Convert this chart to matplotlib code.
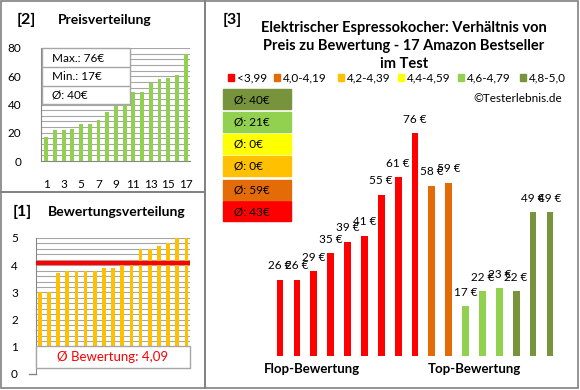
import numpy as np
import matplotlib.pyplot as plt
from matplotlib.patches import Rectangle

plt.rcParams['font.family'] = ['Lato', 'DejaVu Sans']

# data (products sorted by rating group, as shown in the main chart)
prices = [26, 26, 29, 35, 39, 41, 55, 61, 76, 58, 59, 17, 22, 23, 22, 49, 49]
groups = [0, 0, 0, 0, 0, 0, 0, 0, 0, 1, 1, 4, 4, 4, 5, 5, 5]
group_labels = ['<3,99', '4,0-4,19', '4,2-4,39', '4,4-4,59', '4,6-4,79', '4,8-5,0']
group_colors = ['#FF0000', '#E36C09', '#FFC000', '#FFFF00', '#92D050', '#77933C']
group_avgs = [43, 59, 0, 0, 21, 40]

prices_sorted = [17, 22, 22, 23, 26, 26, 29, 35, 39, 41, 49, 49, 55, 58, 59, 61, 76]
ratings_sorted = [3.0, 3.0, 3.7, 3.8, 3.8, 3.8, 3.8, 3.9, 3.9, 4.0, 4.0, 4.6, 4.6, 4.7, 4.8, 5.0, 5.0]
avg_rating = 4.09

W, H = 580, 390
fig = plt.figure(figsize=(W / 100, H / 100), dpi=100)


def px_axes(x0, y0, x1, y1, **kw):
    # axes from pixel box (top-left origin)
    return fig.add_axes([x0 / W, 1 - y1 / H, (x1 - x0) / W, (y1 - y0) / H], **kw)


def ftext(x, y, s, **kw):
    fig.text(x / W, 1 - y / H, s, **kw)


grey = '#868686'

# ---- [2] Preisverteilung ----
ax2 = px_axes(41, 48, 190, 161)
x = np.arange(1, len(prices_sorted) + 1)
ax2.bar(x, prices_sorted, width=0.45, color='#92D050', zorder=3)
ax2.set_xlim(0.4, 17.5)
ax2.set_ylim(0, 80)
ax2.set_yticks(np.arange(0, 81, 20))
ax2.set_yticks(np.arange(0, 81, 4), minor=True)
ax2.set_xticks(np.arange(1, 18, 2))
ax2.grid(axis='y', which='both', color='#A6A6A6', linewidth=0.8, zorder=0)
for s in ['top', 'right']:
    ax2.spines[s].set_visible(False)
ax2.spines['left'].set_color(grey)
ax2.spines['bottom'].set_color(grey)
ax2.tick_params(axis='both', which='both', length=0, labelsize=8.5)
ax2.tick_params(axis='y', pad=14)
ax2.tick_params(axis='x', pad=13)
ftext(17, 20, '[2]', fontsize=11.5, fontweight='bold', va='center')
ftext(58, 20, 'Preisverteilung', fontsize=10, fontweight='bold', va='center')

# ---- [1] Bewertungsverteilung ----
ax1 = px_axes(36, 238, 190, 374)
ax1.bar(x, ratings_sorted, width=0.4, color='#FFC000', zorder=3)
ax1.set_xlim(0.6, 17.4)
ax1.set_ylim(0, 5)
ax1.set_yticks(np.arange(0, 6, 1))
ax1.set_yticks(np.arange(0, 5.01, 0.2), minor=True)
ax1.set_xticks([])
ax1.grid(axis='y', which='both', color='#A6A6A6', linewidth=0.8, zorder=0)
for s in ['top', 'right', 'bottom']:
    ax1.spines[s].set_visible(False)
ax1.spines['left'].set_color(grey)
ax1.plot([0.7, 17.3], [avg_rating, avg_rating], color='#FF0000', lw=3, zorder=4)
ax1.tick_params(axis='both', which='both', length=0, labelsize=8.5)
ax1.tick_params(axis='y', pad=13)
ax1.plot([-0.2, 0.6], [0, 0], color=grey, lw=1, clip_on=False)
ftext(13, 212, '[1]', fontsize=11.5, fontweight='bold', va='center')
ftext(48, 212, 'Bewertungsverteilung', fontsize=10, fontweight='bold', va='center')

# ---- [3] main chart ----
ax3 = px_axes(270, 100, 560, 356)
pos = np.arange(len(prices))
cols = [group_colors[g] for g in groups]
ax3.bar(pos, prices, width=0.4, color=cols)
for p, v in zip(pos, prices):
    ax3.annotate('%d €' % v, (p, v), xytext=(0, 6), textcoords='offset points',
                 ha='center', va='bottom', fontsize=8.5)
ax3.set_xlim(-0.6, 16.6)
ax3.set_ylim(0, 87.2)
ax3.axis('off')

ftext(223, 20, '[3]', fontsize=11.5, fontweight='bold', va='center')
title = 'Elektrischer Espressokocher: Verhältnis von\nPreis zu Bewertung - 17 Amazon Bestseller\nim Test'
ftext(404, 46, title, fontsize=10.5, fontweight='bold', ha='center', va='center',
      linespacing=1.35)
ftext(562, 98, '©Testerlebnis.de', fontsize=8.5, ha='right', va='center')
ftext(312, 369, 'Flop-Bewertung', fontsize=9.5, fontweight='bold', ha='center', va='center')
ftext(474, 369, 'Top-Bewertung', fontsize=9.5, fontweight='bold', ha='center', va='center')

# overlay in pixel coordinates: frames, boxes, legend
ov = px_axes(0, 0, W, H)
ov.set_xlim(0, W)
ov.set_ylim(H, 0)
ov.axis('off')
ov.patch.set_alpha(0)
for (x0, y0, x1, y1) in [(1, 1, 205, 192), (1, 192, 205, 388), (205, 1, 578, 388)]:
    ov.add_patch(Rectangle((x0, y0), x1 - x0, y1 - y0, fill=False,
                           edgecolor='#808080', linewidth=1.2))

# stats box in [2]
ov.add_patch(Rectangle((42, 48), 88, 56, facecolor='white', edgecolor='#A6A6A6', linewidth=1))
ov.plot([42, 130], [67, 67], color='#A6A6A6', lw=1)
ov.plot([42, 130], [86, 86], color='#A6A6A6', lw=1)
for yy, s in [(58, 'Max.: %d€' % max(prices_sorted)), (77, 'Min.: %d€' % min(prices_sorted)),
              (95, 'Ø: %d€' % round(np.mean(prices_sorted)))]:
    ov.text(52, yy, s, fontsize=8.5, va='center')

# average rating box in [1] (blanks the bars below 1)
ov.add_patch(Rectangle((37, 368), 153, 5.5, facecolor='white', edgecolor='none'))
ov.add_patch(Rectangle((36, 346), 154, 22, facecolor='white', edgecolor='#A6A6A6', linewidth=1))
ov.text(113, 357, 'Ø Bewertung: ' + ('%.2f' % avg_rating).replace('.', ','),
        fontsize=9.5, color='#FF0000', ha='center', va='center')

# colour legend row
leg_x = [228, 274, 338, 398, 458, 520]
for lx, lab, c in zip(leg_x, group_labels, group_colors):
    ov.add_patch(Rectangle((lx, 74), 6, 7, color=c))
    ov.text(lx + 9, 78, lab, fontsize=8.5, va='center')

# average boxes per group (top: best group)
box_y = [201, 180, 156, 134, 112, 89]
for by, avg, c in zip(box_y, group_avgs, group_colors):
    ov.add_patch(Rectangle((223, by), 68, 20, color=c))
    ov.text(234, by + 10.5, 'Ø: %d€' % avg, fontsize=8.5, va='center')

fig.savefig('out.png', dpi=100)
